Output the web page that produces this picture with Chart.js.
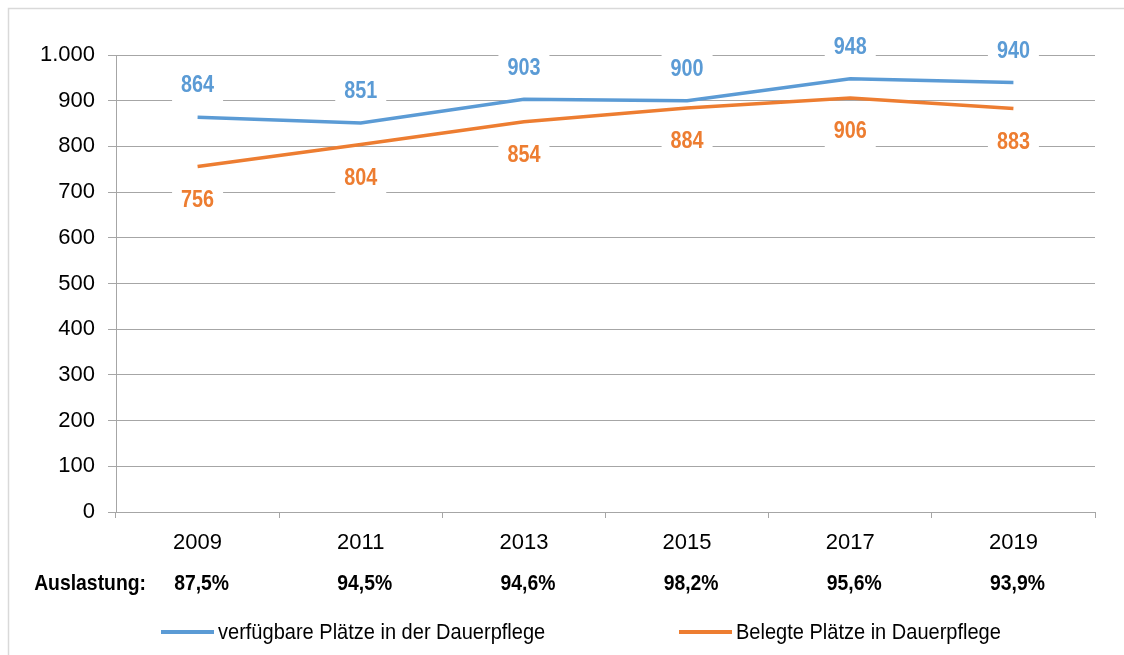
<!DOCTYPE html>
<html><head><meta charset="utf-8">
<script src="https://cdn.jsdelivr.net/npm/chart.js@4/dist/chart.umd.min.js"></script>
<style>html,body{margin:0;padding:0;background:#fff;}#wrap{width:1124px;height:655px;position:relative;}</style>
</head><body><div id="wrap"><canvas id="c" width="1124" height="655"></canvas></div>
<script>
const years = ['2009', '2011', '2013', '2015', '2017', '2019'];
const availablePlaces = [864, 851, 903, 900, 948, 940];
const occupiedPlaces = [756, 804, 854, 884, 906, 883];
const utilization = ['87,5%', '94,5%', '94,6%', '98,2%', '95,6%', '93,9%'];
const utilizationTitle = 'Auslastung:';
const seriesNames = ['verfügbare Plätze in der Dauerpflege', 'Belegte Plätze in Dauerpflege'];
const seriesColors = ['#5b9bd5', '#ed7d31'];

const FONT = '"Liberation Sans Narrow", "Arial Narrow", "Liberation Sans", Arial, sans-serif';

function fmt(v) { return String(v).replace(/\B(?=(\d{3})+(?!\d))/g, '.'); }

function squeezed(ctx, txt, x, y, sx) {
  ctx.save();
  ctx.translate(x, y);
  ctx.scale(sx, 1);
  ctx.fillText(txt, 0, 0);
  ctx.restore();
}

const extras = {
  id: 'extras',
  beforeDraw(chart) {
    const ctx = chart.ctx;
    ctx.save();
    ctx.strokeStyle = '#d9d9d9';
    ctx.lineWidth = 1.5;
    ctx.beginPath();
    ctx.moveTo(8.5, 655); ctx.lineTo(8.5, 8.5); ctx.lineTo(1124, 8.5);
    ctx.stroke();
    ctx.restore();
  },
  afterDatasetsDraw(chart) {
    const ctx = chart.ctx;
    const sx = 0.86;
    ctx.save();
    ctx.font = 'bold 23px ' + FONT;
    ctx.textAlign = 'center';
    ctx.textBaseline = 'middle';
    chart.data.datasets.forEach((ds, i) => {
      const meta = chart.getDatasetMeta(i);
      meta.data.forEach((pt, j) => {
        const txt = fmt(ds.data[j]);
        const dy = i === 0 ? -32 : 33;
        const cx = pt.x, cy = pt.y + dy;
        const w = ctx.measureText(txt).width * sx + 18;
        ctx.fillStyle = '#fff';
        ctx.fillRect(cx - w / 2, cy - 17, w, 34);
        ctx.fillStyle = ds.borderColor;
        squeezed(ctx, txt, cx, cy + 1, sx);
      });
    });
    ctx.restore();
  },
  afterDraw(chart) {
    const ctx = chart.ctx;
    const xs = chart.scales.x;
    ctx.save();
    ctx.fillStyle = '#000';
    ctx.font = 'bold 22px ' + FONT;
    ctx.textBaseline = 'middle';
    ctx.textAlign = 'right';
    squeezed(ctx, utilizationTitle, 146, 584, 0.88);
    ctx.textAlign = 'center';
    utilization.forEach((u, j) => squeezed(ctx, u, xs.getPixelForValue(j) + 4, 584, 0.88));
    // legend
    const starts = [161, 679];
    ctx.font = '22px ' + FONT;
    ctx.textAlign = 'left';
    chart.data.datasets.forEach((ds, i) => {
      const x0 = starts[i];
      ctx.strokeStyle = ds.borderColor;
      ctx.lineWidth = 4;
      ctx.beginPath(); ctx.moveTo(x0, 632); ctx.lineTo(x0 + 53, 632); ctx.stroke();
      ctx.fillStyle = '#000';
      squeezed(ctx, ds.label, x0 + 57, 633, 0.91);
    });
    ctx.restore();
  }
};

new Chart(document.getElementById('c'), {
  type: 'line',
  data: {
    labels: years,
    datasets: [
      { label: seriesNames[0], data: availablePlaces, borderColor: seriesColors[0], backgroundColor: seriesColors[0], borderWidth: 3.5, pointRadius: 0, tension: 0 },
      { label: seriesNames[1], data: occupiedPlaces, borderColor: seriesColors[1], backgroundColor: seriesColors[1], borderWidth: 3.5, pointRadius: 0, tension: 0 }
    ]
  },
  options: {
    responsive: false,
    animation: false,
    devicePixelRatio: 1,
    layout: { padding: { left: 0, top: 55, right: 29, bottom: 0 } },
    plugins: { legend: { display: false }, tooltip: { enabled: false } },
    scales: {
      x: {
        offset: true,
        afterFit(s) { s.height = 143; },
        grid: { drawOnChartArea: false, drawTicks: true, tickLength: 6, color: '#a6a6a6', offset: true },
        border: { display: true, color: '#a6a6a6' },
        ticks: { color: '#000', font: { family: FONT, size: 22 }, padding: 12, maxRotation: 0 }
      },
      y: {
        min: 0, max: 1000,
        afterFit(s) { s.width = 116; },
        grid: { color: '#a6a6a6', drawTicks: true, tickLength: 8 },
        border: { display: true, color: '#a6a6a6' },
        ticks: { stepSize: 100, color: '#000', font: { family: FONT, size: 22 }, padding: 13, callback: v => fmt(v) }
      }
    }
  },
  plugins: [extras]
});
</script>
</body></html>
